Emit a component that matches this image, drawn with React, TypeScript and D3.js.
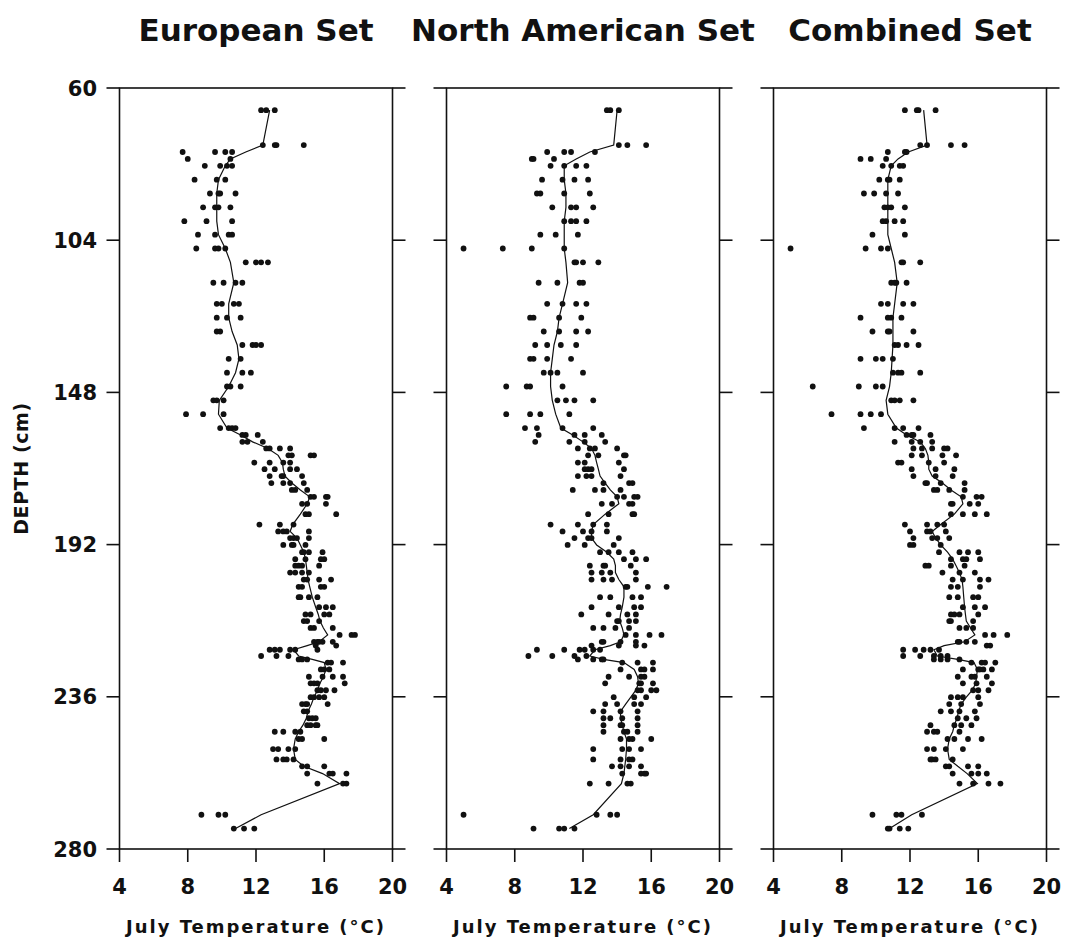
import React from "react";
import * as d3 from "d3";

// depth (cm) of every sampled level, shared by the three reconstructions
const depths = [
  66.4, 76.5, 78.5, 80.5, 82.5, 86.5, 90.5, 94.5, 98.5, 102.4,
  106.4, 110.4, 116.3, 122.4, 126.4, 130.4, 134.3, 138.3, 142.3, 146.3,
  150.3, 154.3, 158.3, 160.3, 162.3, 164.2, 166.2, 168.3, 170.2, 172.2,
  174.2, 176.2, 178.2, 180.2, 183.2, 186.2, 188.2, 190.1, 192.1, 194.2,
  196.2, 198.1, 200.1, 202.1, 204.2, 207.2, 210.1, 212.2, 214.1, 216.1,
  218.1, 220.1, 221.2, 222.4, 224.2, 225.2, 226.1, 228.1, 230.2, 232.1,
  234.1, 236.1, 238.1, 240.2, 242.2, 244.2, 246.1, 248.2, 251.1, 254.1,
  256.1, 258.2, 261.1, 270.1, 274.1,
];

const europeanPoints = [
  [12.3, 12.6, 13.1], [12.4, 13.1, 13.2, 14.8], [7.7, 9.6, 10.2, 10.6], [8.0, 10.5],
  [9.0, 9.9, 10.3, 10.6], [8.4, 9.7, 10.2], [9.3, 9.8, 9.9, 10.8], [8.9, 9.6, 9.8, 10.5],
  [7.8, 9.1, 10.6], [8.6, 9.6, 10.4, 10.6], [8.5, 9.6, 9.8, 10.2], [11.4, 12.0, 12.3, 12.7],
  [9.5, 10.1, 10.8, 11.2], [9.7, 10.0, 10.7, 11.0], [9.7, 10.3, 11.1], [9.7, 9.9],
  [11.2, 11.8, 12.0, 12.3], [10.4, 11.1], [10.3, 11.2, 11.7], [10.3, 10.5, 11.1],
  [9.5, 9.7, 10.1], [7.9, 8.9, 10.1], [9.9, 10.4, 10.6, 10.8], [11.2, 11.4, 12.1],
  [11.2, 11.5, 12.4], [12.6, 12.8, 13.4, 14.0], [13.9, 14.1, 15.2, 15.4], [11.9, 12.8, 13.6, 14.0],
  [12.5, 13.1, 14.0, 14.4], [12.8, 13.5, 13.6, 14.7], [12.9, 13.6, 14.0, 14.8], [14.1, 14.3, 15.0],
  [15.2, 15.4, 16.1, 16.2], [14.7, 15.0, 16.1], [14.9, 15.1, 16.7], [12.2, 13.4, 14.2],
  [13.3, 13.6, 13.8, 15.1], [14.0, 14.2, 14.4, 15.1], [13.6, 14.1, 14.2, 14.9], [14.7, 14.8, 15.1, 15.9],
  [14.3, 14.9, 15.8, 16.0], [14.3, 14.5, 14.7, 15.7], [14.0, 14.3, 14.7, 15.1], [14.8, 15.0, 15.7, 16.4],
  [14.5, 14.7, 15.8, 16.0], [14.5, 14.6, 15.1, 15.6], [15.7, 16.1, 16.5], [14.9, 15.2, 16.0, 16.3],
  [14.8, 15.0, 15.7], [15.2, 15.4, 16.5], [16.9, 17.6, 17.8], [15.4, 15.6, 15.7, 15.9, 16.5],
  [15.5, 16.7], [12.8, 13.1, 13.4, 14.0, 14.3, 15.6], [12.3, 13.2, 13.9], [14.5, 14.7, 15.0],
  [16.2, 16.4, 17.1], [15.8, 16.0, 16.3], [15.1, 15.9, 16.5, 17.1], [15.2, 15.4, 15.6, 17.2],
  [15.6, 15.8, 16.1, 16.6], [15.2, 15.4, 15.7, 16.0], [14.7, 14.9, 15.0, 16.2], [14.8, 15.0],
  [15.1, 15.3, 15.5], [15.0, 15.2, 15.5, 15.6], [13.1, 13.6, 14.3, 14.6], [14.5, 14.7, 16.0],
  [13.0, 13.3, 13.9, 14.3], [13.2, 13.6, 13.8, 14.2], [14.7, 15.0, 16.0], [15.0, 16.3, 16.5, 17.3],
  [15.6, 17.1, 17.3], [8.8, 9.8, 10.2], [10.7, 11.3, 11.9],
];
const europeanCurve = [
  12.8, 12.4, 11.4, 10.5, 10.2, 9.8, 9.7, 9.7, 9.7, 9.8,
  10.2, 10.5, 10.7, 10.4, 10.4, 10.6, 10.9, 11.0, 10.8, 10.4,
  9.85, 9.8, 10.3, 11.1, 11.8, 12.7, 13.3, 13.55, 13.6, 13.7,
  14.1, 14.6, 15.15, 15.0, 14.6, 14.15, 14.0, 14.4, 14.6, 14.8,
  14.9, 14.95, 15.0, 15.05, 15.15, 15.3, 15.5, 15.65, 15.75, 15.95,
  16.2, 15.7, 15.0, 14.2, 14.5, 15.3, 16.0, 16.1, 15.95, 15.75,
  15.6, 15.4, 15.25, 15.05, 14.95, 14.75, 14.5, 14.3, 14.2, 14.3,
  14.8, 15.9, 16.9, 12.3, 10.8,
];

const northAmericanPoints = [
  [13.4, 13.6, 14.1], [14.1, 14.6, 15.7], [9.9, 10.9, 11.3, 12.7], [9.0, 9.1, 10.3],
  [10.1, 10.9, 11.6, 12.2], [9.6, 10.8, 11.5, 12.3], [9.3, 9.5, 10.9, 12.4], [10.2, 11.3, 11.6, 12.6],
  [10.9, 11.3, 11.6, 12.2], [9.5, 10.4, 11.7], [5.0, 7.3, 9.0, 10.9], [11.5, 11.6, 12.0, 12.9],
  [9.4, 10.5, 11.8, 12.0], [9.9, 10.8, 11.6, 12.2], [8.9, 9.1, 10.6, 11.9], [9.7, 10.6, 11.6, 12.3],
  [9.2, 9.9, 10.7, 11.6], [8.9, 9.1, 9.9, 11.3], [9.7, 10.1, 10.5, 12.0], [7.5, 8.7, 8.9, 10.8],
  [10.5, 11.0, 11.5, 12.6], [7.5, 8.9, 9.5, 11.2], [8.6, 9.3, 10.8, 12.6], [9.4, 11.5, 12.1, 13.1],
  [9.2, 11.2, 12.1, 13.3], [11.7, 12.4, 12.7, 14.0], [12.3, 12.9, 14.4, 14.5], [11.7, 12.1, 14.1],
  [12.1, 12.3, 12.5, 14.4], [11.7, 12.2, 12.5, 14.2], [13.2, 14.7, 14.9], [11.4, 12.7, 13.2, 14.2],
  [14.0, 14.4, 15.0, 15.2], [13.1, 13.7, 14.7, 14.9], [12.3, 13.5, 14.9, 15.0], [10.1, 11.7, 12.6, 13.4],
  [10.8, 12.0, 12.5, 13.4], [11.5, 12.3, 12.5, 14.1], [11.1, 12.1, 13.8], [13.0, 13.5, 14.1, 14.9],
  [14.4, 15.1, 15.7], [12.4, 13.2, 13.3, 14.8], [12.5, 13.1, 13.6, 15.1], [12.5, 13.2, 13.7, 15.1],
  [14.5, 14.6, 15.8, 16.9], [13.0, 13.6, 14.9, 15.4], [12.5, 14.1, 15.0, 15.4], [11.9, 13.5, 14.6, 15.1],
  [14.0, 14.1, 14.7, 15.1], [12.6, 13.2, 13.9, 14.7], [14.5, 15.1, 15.9, 16.6], [13.1, 13.2, 14.2, 15.1],
  [12.5, 14.1, 15.1, 15.6], [9.3, 10.9, 11.8, 12.1, 12.6, 13.0], [8.8, 10.2, 11.5, 12.2], [11.7, 12.6, 13.1, 13.2],
  [14.3, 15.2, 16.1], [14.2, 15.4, 15.6, 16.1], [13.5, 14.7, 15.4, 15.6], [13.3, 15.3, 15.4, 16.1],
  [15.2, 15.4, 16.0, 16.3], [13.8, 15.0, 15.7], [13.3, 14.0, 15.0, 15.4], [12.6, 13.2, 14.2, 15.2],
  [13.2, 13.6, 14.3, 15.2], [13.2, 14.2, 14.3, 15.2], [13.2, 14.4, 14.6, 15.2], [14.2, 14.7, 14.9, 16.0],
  [12.6, 14.3, 14.7, 15.4], [12.6, 14.2, 14.7, 14.9], [13.7, 14.2, 14.7, 15.4], [14.3, 15.4, 15.6, 15.7],
  [12.4, 13.5, 14.6, 14.8], [5.0, 12.8, 13.6, 14.0], [9.1, 10.6, 10.9, 11.5],
];
const northAmericanCurve = [
  14.0, 13.8, 12.4, 11.6, 10.9, 10.9, 11.0, 11.0, 10.9, 10.9,
  10.9, 11.0, 11.1, 10.8, 10.6, 10.5, 10.3, 10.2, 10.1, 10.1,
  10.2, 10.4, 10.7, 11.4, 12.0, 12.5, 12.7, 12.8, 12.9, 13.0,
  13.3, 13.6, 14.0, 14.1, 13.3, 12.6, 12.5, 12.5, 12.8, 13.4,
  13.8, 13.9, 13.9, 14.1, 14.4, 14.4, 14.3, 14.2, 14.15, 14.3,
  14.4, 14.2, 13.6, 12.7, 12.4, 13.2, 14.4, 15.0, 15.2, 15.25,
  15.1, 14.8, 14.5, 14.2, 14.2, 14.3, 14.4, 14.55, 14.55, 14.5,
  14.45, 14.4, 14.25, 12.6, 11.2,
];

const combinedPoints = [
  [11.7, 12.4, 12.5, 13.5], [12.6, 13.0, 14.4, 15.2], [10.7, 11.7, 11.8], [9.1, 9.7, 10.6],
  [10.4, 10.9, 11.4, 11.6], [10.2, 10.7, 10.8, 11.4], [9.3, 9.9, 10.6, 11.3], [10.5, 10.7, 10.9, 11.7],
  [10.4, 10.6, 11.1, 11.6], [9.8, 11.7], [5.0, 9.4, 10.3, 10.7], [11.5, 11.6, 12.6],
  [10.9, 11.1, 11.2, 11.8], [10.3, 10.7, 11.6, 12.2], [9.1, 10.7, 10.9, 11.5], [9.8, 10.7, 10.8, 12.2],
  [11.1, 11.3, 11.8, 12.5], [9.1, 10.0, 10.4, 11.0], [11.0, 11.3, 11.5, 12.6], [6.3, 9.0, 10.0, 10.4],
  [10.9, 11.1, 11.4, 12.2], [7.4, 9.1, 9.7, 10.3], [9.3, 11.1, 11.6, 12.5], [11.8, 12.1, 12.2, 13.2],
  [11.1, 12.1, 12.6, 13.3], [12.2, 12.7, 13.3, 14.0, 14.2], [12.1, 12.7, 13.9, 14.7], [11.3, 11.5, 13.1, 14.0],
  [12.1, 13.5, 14.6], [12.2, 13.5, 14.5], [12.9, 13.0, 13.8, 15.2], [13.4, 13.6, 14.3, 15.2],
  [15.1, 15.9, 16.2], [14.4, 14.5, 15.5, 16.0], [14.4, 15.1, 15.8, 16.5], [11.7, 13.0, 13.6, 14.0],
  [12.0, 13.0, 13.2, 14.1], [12.2, 13.3, 13.6, 14.3], [12.0, 12.2, 13.8], [13.7, 14.9, 15.4, 16.0],
  [14.4, 15.1, 15.3, 16.1], [12.9, 13.1, 14.4, 15.2], [13.9, 14.9, 15.8], [14.5, 15.1, 16.1, 16.6],
  [14.4, 14.8, 16.1], [14.3, 14.8, 15.7, 16.0], [15.1, 15.8, 16.4], [14.4, 14.6, 14.9, 16.0],
  [14.3, 14.4, 15.7], [14.9, 15.3, 15.7], [16.4, 16.9, 17.7], [14.8, 14.9, 15.3, 15.8],
  [16.5, 16.7], [11.6, 12.3, 12.8, 13.2, 13.7], [11.6, 12.6, 13.4, 13.8, 14.2], [13.4, 13.8, 14.2, 14.9],
  [15.6, 16.2, 16.4, 17.0], [15.1, 16.0, 16.1, 16.3, 16.8], [14.8, 15.6, 15.8, 16.5], [15.1, 15.9, 16.8],
  [15.7, 16.0, 16.6], [14.4, 14.8, 15.1, 16.0], [14.3, 15.0, 16.1], [13.8, 14.4, 14.9, 15.8],
  [14.8, 15.3, 15.9], [13.2, 14.6, 15.0, 15.6], [13.0, 13.4, 13.6, 14.9], [14.2, 14.6, 15.4, 16.2],
  [13.0, 13.4, 14.1, 15.1], [13.2, 13.3, 13.5, 14.5], [14.1, 14.3, 15.4, 16.0], [14.5, 15.6, 16.0, 16.5],
  [14.9, 15.7, 16.6, 17.3], [9.8, 11.2, 11.5, 12.7], [10.7, 10.8, 11.4, 11.9],
];
const combinedCurve = [
  12.8, 13.0, 11.9, 11.3, 10.9, 10.7, 10.7, 10.7, 10.7, 10.7,
  10.9, 11.1, 11.25, 11.1, 11.0, 11.0, 11.0, 10.95, 10.9, 10.8,
  10.6, 10.7, 11.2, 11.8, 12.6, 12.9, 13.05, 13.1, 13.1, 13.3,
  13.9, 14.4, 15.0, 15.1, 14.6, 13.8, 13.3, 13.5, 13.8, 14.2,
  14.5, 14.7, 14.9, 15.05, 15.1, 15.15, 15.2, 15.25, 15.3, 15.55,
  15.8, 15.2, 14.0, 13.4, 13.6, 14.8, 15.75, 15.95, 15.9, 15.85,
  15.65, 15.3, 15.0, 14.85, 14.75, 14.6, 14.5, 14.3, 14.2, 14.3,
  14.8, 15.35, 15.95, 12.1, 10.8,
];

const titles = ["European Set", "North American Set", "Combined Set"];
const xTicks = [4, 8, 12, 16, 20];
const yTicks = [60, 104, 148, 192, 236, 280];

const FONT = "'DejaVu Sans', sans-serif";
const INK = "#111";

const panels = [
  { title: titles[0], points: europeanPoints, curve: europeanCurve, left: 119.5 },
  { title: titles[1], points: northAmericanPoints, curve: northAmericanCurve, left: 446.5 },
  { title: titles[2], points: combinedPoints, curve: combinedCurve, left: 773.5 },
];

const top = 88;
const bottom = 849;
const panelW = 273;
const tickLen = 13;

export default function App() {
  const y = d3.scaleLinear().domain([60, 280]).range([top, bottom]);

  return (
    <svg width={1065} height={938} style={{ position: "absolute", left: 0, top: 0, background: "#fff" }}>
      {panels.map((p, i) => {
        const x = d3.scaleLinear().domain([4, 20]).range([p.left, p.left + panelW]);
        const line = d3.line<number>()
          .x(d => x(d))
          .y((_, j) => y(depths[j]));
        const cx = p.left + panelW / 2;
        return (
          <g key={i}>
            <text x={cx} y={41} textAnchor="middle" fontFamily={FONT} fontWeight="bold"
              fontSize={31} fill={INK}>{p.title}</text>

            <rect x={p.left} y={top} width={panelW} height={bottom - top}
              fill="none" stroke={INK} strokeWidth={1.6} />

            {yTicks.map(t => (
              <g key={t}>
                <line x1={p.left - tickLen} x2={p.left} y1={y(t)} y2={y(t)} stroke={INK} strokeWidth={1.6} />
                <line x1={p.left + panelW} x2={p.left + panelW + tickLen} y1={y(t)} y2={y(t)} stroke={INK} strokeWidth={1.6} />
              </g>
            ))}

            {xTicks.map(t => (
              <g key={t}>
                <line x1={x(t)} x2={x(t)} y1={bottom} y2={bottom + tickLen} stroke={INK} strokeWidth={1.6} />
                <text x={x(t)} y={894} textAnchor="middle" fontFamily={FONT} fontWeight="bold"
                  fontSize={21} fill={INK}>{t}</text>
              </g>
            ))}

            <text x={cx} y={933} textAnchor="middle" fontFamily={FONT} fontWeight="bold"
              fontSize={18} letterSpacing={2} fill={INK}>July Temperature (°C)</text>

            <path d={line(p.curve) || ""} fill="none" stroke={INK} strokeWidth={1.2} />

            {p.points.map((row, j) =>
              row.map((t, k) => (
                <circle key={`${j}-${k}`} cx={x(t)} cy={y(depths[j])} r={2.9} fill={INK} />
              ))
            )}
          </g>
        );
      })}

      {yTicks.map(t => (
        <text key={t} x={97} y={y(t)} dy="0.36em" textAnchor="end" fontFamily={FONT}
          fontWeight="bold" fontSize={21} fill={INK}>{t}</text>
      ))}

      <text transform={`translate(28, ${(top + bottom) / 2}) rotate(-90)`} textAnchor="middle"
        fontFamily={FONT} fontWeight="bold" fontSize={19} letterSpacing={0.6} fill={INK}>DEPTH (cm)</text>
    </svg>
  );
}
